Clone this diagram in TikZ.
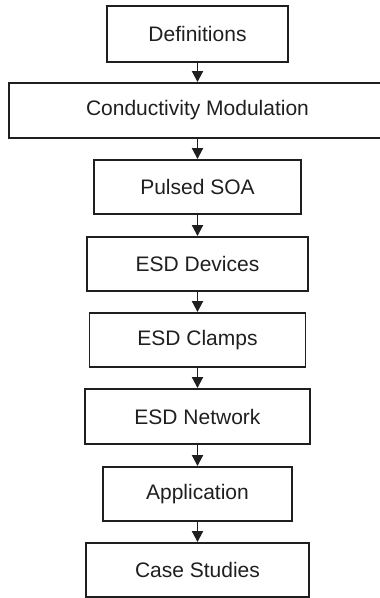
\documentclass[tikz,border=0pt]{standalone}
\usepackage{fontspec}
\setmainfont{Liberation Sans}
\usetikzlibrary{arrows.meta}
\begin{document}
\begin{tikzpicture}[x=1pt,y=-1pt,
  box/.style={draw=black!88, line width=1.9pt, inner sep=0pt, text=black!88,
    font=\fontsize{21}{25}\selectfont},
  link/.style={draw=black!88, line width=1.9pt, -{Triangle[length=11pt,width=11pt]}}]
\useasboundingbox (0,0) rectangle (380,598);
\node[box, minimum width=181pt, minimum height=56pt] (def) at (197.5,34) {Definitions};
\node[box, minimum width=377pt, minimum height=55pt] (cm) at (197.5,110.5) {Conductivity Modulation};
\node[box, minimum width=207pt, minimum height=54pt] (soa) at (197.5,187) {Pulsed SOA};
\node[box, minimum width=221pt, minimum height=54pt] (dev) at (197.5,264) {ESD Devices};
\node[box, minimum width=216pt, minimum height=54pt] (clamp) at (197.5,340) {ESD Clamps};
\node[box, minimum width=225pt, minimum height=55pt] (net) at (197.5,416.5) {ESD Network};
\node[box, minimum width=189pt, minimum height=54pt] (app) at (197.5,494) {Application};
\node[box, minimum width=223pt, minimum height=54pt] (case) at (197.5,570) {Case Studies};
\draw[link] (def) -- (cm);
\draw[link] (cm) -- (soa);
\draw[link] (soa) -- (dev);
\draw[link] (dev) -- (clamp);
\draw[link] (clamp) -- (net);
\draw[link] (net) -- (app);
\draw[link] (app) -- (case);
\end{tikzpicture}
\end{document}
